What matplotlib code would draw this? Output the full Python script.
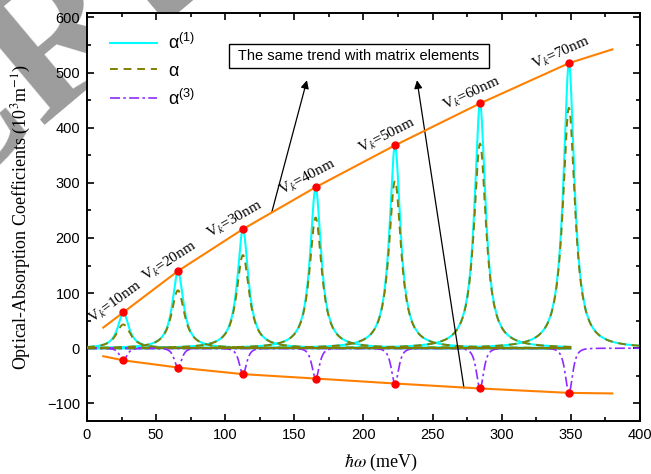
import numpy as np
import matplotlib
matplotlib.use('Agg')
import matplotlib.pyplot as plt

plt.rcParams['font.family'] = 'Liberation Sans'
plt.rcParams['mathtext.fontset'] = 'custom'
plt.rcParams['mathtext.rm'] = 'Liberation Sans'
plt.rcParams['mathtext.it'] = 'Liberation Sans:italic'

# --- data ---
vk_labels = ['10', '20', '30', '40', '50', '60', '70']
peak_pos = [26.3, 65.8, 112.8, 165.4, 222.8, 284.3, 348.6]    # meV
alpha1_peak = [65, 140, 216, 292, 368, 444, 517]             # 10^3 m^-1
alpha3_dip = [-22, -35, -47, -55, -64, -73, -81]
curve_end = [350, 350, 350, 350, 350, 350, 400]
gamma = 4.8                                                  # half width (meV)

trend_x = [11.8, 26.3, 65.8, 112.8, 165.4, 222.8, 284.3, 348.6, 380]
trend_upper = [37.5, 65, 140, 216, 292, 368, 444, 517, 542]
trend_lower = [-14.5, -22, -35, -47, -55, -64, -73, -81, -82]

c_a1 = '#00FFFF'
c_a = '#808000'
c_a3 = '#8F2BFF'
c_trend = '#FF8000'

fig = plt.figure(figsize=(6.51, 4.74), dpi=100)

# grey watermark behind the axes
fig.text(0.06, 0.87, 'CRI', fontsize=140, fontweight='bold', family='Liberation Serif',
         color='#9c9c9c', rotation=40, ha='center', va='center',
         rotation_mode='anchor', zorder=-5)

ax = fig.add_axes([0.1336, 0.1118, 0.8495, 0.8608])
ax.set_facecolor('white')

for x0, p, d, xe in zip(peak_pos, alpha1_peak, alpha3_dip, curve_end):
    w = np.linspace(0, xe, 3000)
    lor = gamma**2 / ((w - x0)**2 + gamma**2)
    a1 = p * lor
    a3 = d * lor**2
    ax.plot(w, a1, color=c_a1, lw=1.5, zorder=2)
    ax.plot(w, a1 + a3, color=c_a, lw=1.4, ls=(0, (4, 3)), zorder=3)
    ax.plot(w, a3, color=c_a3, lw=1.2, ls=(0, (6, 2, 1.5, 2)), zorder=2.5)

ax.plot(trend_x, trend_upper, color=c_trend, lw=1.5, zorder=4)
ax.plot(trend_x, trend_lower, color=c_trend, lw=1.5, zorder=4)
ax.plot(peak_pos, alpha1_peak, 'o', color='red', ms=5, zorder=5)
ax.plot(peak_pos, alpha3_dip, 'o', color='red', ms=5, zorder=5)

# V_k labels along the upper trend line
rots = [36, 33, 30, 28, 27, 25, 24]
for lab, x0, p, r in zip(vk_labels, peak_pos, alpha1_peak, rots):
    ax.annotate('V$_k$=' + lab + 'nm', xy=(x0, p), xytext=(-6, 7),
                textcoords='offset points', ha='center', va='center',
                rotation=r, rotation_mode='anchor', fontsize=11,
                family='Liberation Serif', math_fontfamily='stix', zorder=6)

# box and arrows
ax.text(196.7, 530, ' The same trend with matrix elements ', fontsize=10.5,
        ha='center', va='center',
        bbox=dict(boxstyle='square,pad=0.35', fc='white', ec='black', lw=1.0))
ax.annotate('', xy=(159.1, 486), xytext=(133.6, 246),
            arrowprops=dict(arrowstyle='-|>', color='black', lw=0.9,
                            mutation_scale=12, shrinkA=0, shrinkB=0))
ax.annotate('', xy=(238.7, 486), xytext=(272.7, -72.5),
            arrowprops=dict(arrowstyle='-|>', color='black', lw=0.9,
                            mutation_scale=12, shrinkA=0, shrinkB=0))

ax.plot([], [], color=c_a1, lw=1.5, label='α$^{(1)}$')
ax.plot([], [], color=c_a, lw=1.4, ls=(0, (4, 3)), label='α')
ax.plot([], [], color=c_a3, lw=1.2, ls=(0, (6, 2, 1.5, 2)), label='α$^{(3)}$')
handles, labels = ax.get_legend_handles_labels()
ax.legend(handles[-3:], labels[-3:], loc='upper left', bbox_to_anchor=(0.042, 0.95),
          frameon=False, fontsize=13, handlelength=2.6, handletextpad=0.6,
          labelspacing=0.5, borderpad=0, borderaxespad=0)

ax.set_xlim(0, 400)
ax.set_ylim(-132, 608)
ax.set_xticks(np.arange(0, 401, 50))
ax.set_xticks(np.arange(0, 401, 25), minor=True)
ax.set_yticks(np.arange(-100, 601, 100))
ax.set_yticks(np.arange(-100, 601, 50), minor=True)
ax.tick_params(which='both', direction='in', top=True, right=True, labelsize=10.5, width=1.2, pad=5)
ax.tick_params(which='major', length=5)
ax.tick_params(which='minor', length=3)
for s in ax.spines.values():
    s.set_linewidth(1.4)

ax.set_xlabel(r'$\hbar\omega\ $(meV)', fontsize=13, family='Liberation Serif',
              math_fontfamily='stix')
ax.xaxis.set_label_coords(0.532, -0.075)
ax.set_ylabel('Optical-Absorption Coefficients (10$^3$m$^{-1}$)', fontsize=13,
              family='Liberation Serif', math_fontfamily='stix')
ax.yaxis.set_label_coords(-0.098, 0.5)

fig.savefig('out.png', dpi=100)
